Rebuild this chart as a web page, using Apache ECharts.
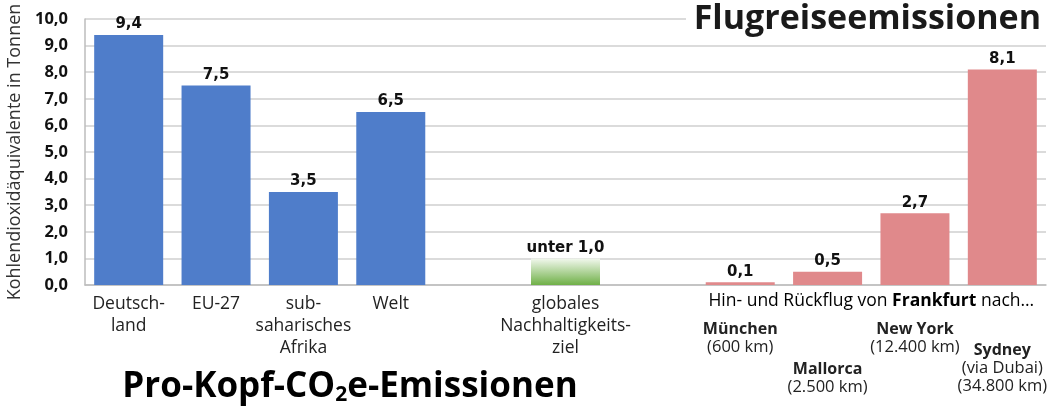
<!DOCTYPE html>
<html><head><meta charset="utf-8">
<script src="https://cdn.jsdelivr.net/npm/echarts@6/dist/echarts.min.js"></script>
<style>html,body{margin:0;padding:0;background:#fff}#c{width:1054px;height:411px}</style>
</head><body><div id="c"></div>
<script>
// ---- data ----
const categories = ['Deutschland','EU-27','sub-saharisches Afrika','Welt','gap1','globales Nachhaltigkeitsziel','gap2','München','Mallorca','New York','Sydney'];
const values = [9.4, 7.5, 3.5, 6.5, null, 1.0, null, 0.1, 0.5, 2.7, 8.1];
const groups = ['region','region','region','region',null,'goal',null,'flight','flight','flight','flight'];
const yTicks = [0,1,2,3,4,5,6,7,8,9,10];
const axisTexts = {
  'Deutschland': 'Deutsch-\nland',
  'EU-27': 'EU-27',
  'sub-saharisches Afrika': 'sub-\nsaharisches\nAfrika',
  'Welt': 'Welt',
  'globales Nachhaltigkeitsziel': 'globales\nNachhaltigkeits-\nziel'
};
const flightLabels = {
  'München': ['München', ['(600 km)']],
  'Mallorca': ['Mallorca', ['(2.500 km)']],
  'New York': ['New York', ['(12.400 km)']],
  'Sydney': ['Sydney', ['(via Dubai)', '(34.800 km)']]
};
const flightGap = {'München': 27, 'Mallorca': 67, 'New York': 27, 'Sydney': 48};
const groupNote = ['Hin- und Rückflug von ', 'Frankfurt', ' nach…'];
const titleLeft = ['Pro-Kopf-CO', '2', 'e-Emissionen'];
const titleRight = 'Flugreiseemissionen';
const yName = 'Kohlendioxidäquivalente in Tonnen';

const F = '"Open Sans", "Noto Sans", sans-serif';
const FV = '"DejaVu Sans", sans-serif';
const colors = {
  region: '#4f7dca',
  flight: '#e0898b',
  goal: new echarts.graphic.LinearGradient(0,0,0,1,[{offset:0,color:'#f2f8ee'},{offset:1,color:'#6fb047'}])
};
const fmt = v => v.toFixed(1).replace('.', ',');

const chart = echarts.init(document.getElementById('c'), null, {renderer:'canvas'});
const data = values.map((v,i) => v == null ? null : {value: v, itemStyle: {color: colors[groups[i]]}});

chart.setOption({
  animation: false,
  grid: {left: 85, right: 8, top: 19, bottom: 126, containLabel: false, outerBoundsMode: 'none'},
  xAxis: {
    type: 'category', data: categories,
    axisLine: {lineStyle: {color: '#bdbdbd', width: 1.5}},
    axisTick: {show: false},
    axisLabel: {
      interval: 0, margin: 8, color: '#222', fontFamily: F, fontSize: 17.5, lineHeight: 22,
      formatter: function (c) {
        if (axisTexts[c]) return axisTexts[c];
        if (flightLabels[c]) {
          const fl = flightLabels[c];
          return '{g' + flightGap[c] + '| }\n{b|' + fl[0] + '}\n' + fl[1].map(s => '{n|' + s + '}').join('\n');
        }
        return '';
      },
      rich: {
        g27: {lineHeight: 27, fontSize: 1},
        g48: {lineHeight: 48, fontSize: 1},
        g67: {lineHeight: 67, fontSize: 1},
        b: {fontFamily: F, fontWeight: 'bold', fontSize: 16, lineHeight: 18, color: '#222'},
        n: {fontFamily: F, fontSize: 16.5, lineHeight: 18, color: '#222'}
      }
    }
  },
  yAxis: {
    type: 'value', min: 0, max: 10, interval: 1,
    name: yName, nameLocation: 'middle', nameGap: 57, nameRotate: 90,
    nameTextStyle: {fontFamily: F, fontSize: 18, color: '#333'},
    axisLine: {show: true, lineStyle: {color: '#bdbdbd', width: 1.5}},
    axisTick: {show: false},
    splitLine: {lineStyle: {color: '#cfcfcf', width: 1.5}},
    axisLabel: {formatter: v => yTicks.includes(v) ? fmt(v) : '', fontFamily: F, fontWeight: 'bold', fontSize: 16.5, color: '#111', margin: 17}
  },
  series: [{
    type: 'bar', data: data, barWidth: 69,
    label: {
      show: true, position: 'top', distance: 3,
      fontFamily: FV, fontWeight: 'bold', fontSize: 15, color: '#111',
      formatter: p => (groups[p.dataIndex] === 'goal' ? 'unter ' : '') + fmt(p.value)
    }
  }]
});

const xa = chart.convertToPixel({xAxisIndex: 0}, 'Mallorca');
const xb = chart.convertToPixel({xAxisIndex: 0}, 'New York');
const y0 = chart.convertToPixel({yAxisIndex: 0}, 0);
chart.setOption({graphic: [
  {type: 'text', x: (xa + xb) / 2, y: y0 + 16, z: 10,
   style: {text: '{n|' + groupNote[0] + '}{b|' + groupNote[1] + '}{n|' + groupNote[2] + '}', align: 'center', verticalAlign: 'middle',
     rich: {n: {fontFamily: F, fontSize: 17.5, color: '#222'}, b: {fontFamily: F, fontSize: 17.5, fontWeight: 'bold', color: '#222'}}}},
  {type: 'rect', shape: {x: 686, y: 0, width: 368, height: 40}, style: {fill: '#fff'}, z: 20},
  {type: 'text', x: 1041, y: 19, z: 21,
   style: {text: titleRight, align: 'right', verticalAlign: 'middle', fontFamily: F, fontWeight: 'bold', fontSize: 34, fill: '#1a1a1a'}},
  {type: 'text', x: 350, y: 387, z: 21,
   style: {text: '{t|' + titleLeft[0] + '}{s|' + titleLeft[1] + '}{t|' + titleLeft[2] + '}', align: 'center', verticalAlign: 'middle',
     rich: {t: {fontFamily: F, fontWeight: 'bold', fontSize: 35, lineHeight: 38, color: '#1a1a1a'},
            s: {fontFamily: F, fontWeight: 'bold', fontSize: 21, lineHeight: 12, verticalAlign: 'bottom', color: '#1a1a1a'}}}}
]});
</script></body></html>
